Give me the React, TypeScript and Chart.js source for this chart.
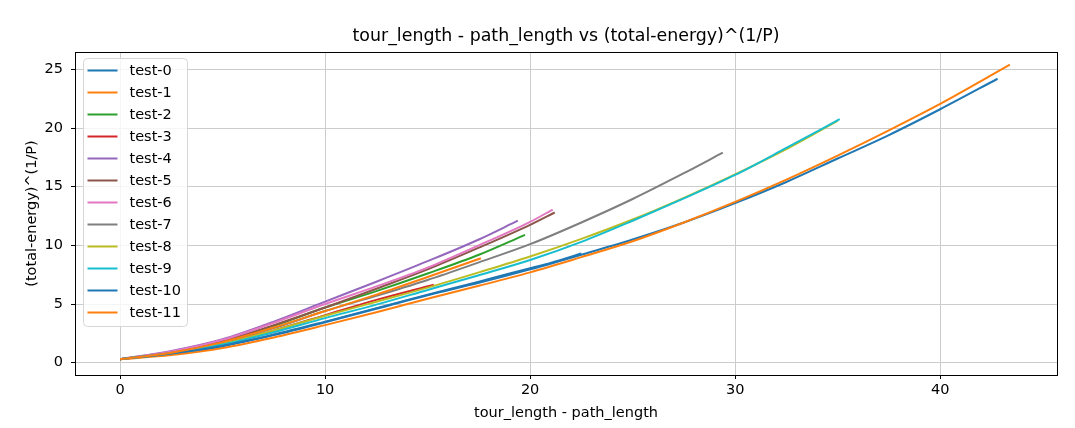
import React, { useEffect, useRef } from "react";
import { Chart, registerables } from "chart.js";

Chart.register(...registerables);

const titleText = "tour_length - path_length vs (total-energy)^(1/P)";
const xAxisLabel = "tour_length - path_length";
const yAxisLabel = "(total-energy)^(1/P)";

const xTicks = [0, 10, 20, 30, 40];
const yTicks = [0, 5, 10, 15, 20, 25];

const seriesLabels = [
  "test-0", "test-1", "test-2", "test-3", "test-4", "test-5",
  "test-6", "test-7", "test-8", "test-9", "test-10", "test-11",
];
const seriesColors = [
  "#1f77b4", "#ff7f0e", "#2ca02c", "#d62728", "#9467bd", "#8c564b",
  "#e377c2", "#7f7f7f", "#bcbd22", "#17becf", "#1f77b4", "#ff7f0e",
];

const test0X = [0, 2.5, 5, 7.5, 10, 12.5, 15, 17.5, 20, 22.5, 25, 27.5, 30, 32.5, 35, 37.5, 40, 42.8];
const test0Y = [0.3, 0.75, 1.4, 2.35, 3.45, 4.6, 5.75, 6.8, 7.95, 9.2, 10.5, 11.95, 13.6, 15.4, 17.4, 19.4, 21.6, 24.2];

const test1X = [0, 2.5, 5, 7.5, 10, 12.5, 15, 17.5, 20, 22.5, 25, 27.5, 30, 32.5, 35, 37.5, 40, 42.5, 43.4];
const test1Y = [0.3, 0.65, 1.25, 2.15, 3.2, 4.3, 5.45, 6.55, 7.7, 9.0, 10.35, 11.95, 13.7, 15.6, 17.65, 19.8, 22.05, 24.5, 25.4];

const test2X = [0, 2.5, 5, 7.5, 10, 12.5, 15, 17.5, 19.75];
const test2Y = [0.3, 0.9, 1.8, 3.15, 4.7, 6.1, 7.6, 9.2, 10.9];

const test3X = [0, 2.5, 5, 7.5, 10, 12.5, 15.3];
const test3Y = [0.3, 0.8, 1.6, 2.75, 4.05, 5.35, 6.65];

const test4X = [0, 2.5, 5, 7.5, 10, 12.5, 15, 17.5, 19.4];
const test4Y = [0.3, 1.0, 2.0, 3.5, 5.2, 6.9, 8.65, 10.5, 12.1];

const test5X = [0, 2.5, 5, 7.5, 10, 12.5, 15, 17.5, 20, 21.2];
const test5Y = [0.3, 0.9, 1.85, 3.2, 4.7, 6.3, 7.95, 9.8, 11.75, 12.8];

const test6X = [0, 2.5, 5, 7.5, 10, 12.5, 15, 17.5, 20, 21.1];
const test6Y = [0.3, 0.95, 1.95, 3.4, 5.0, 6.5, 8.1, 10.0, 12.0, 13.05];

const test7X = [0, 2.5, 5, 7.5, 10, 12.5, 15, 17.5, 20, 22.5, 25, 27.5, 29.4];
const test7Y = [0.3, 0.85, 1.7, 2.95, 4.4, 5.7, 7.05, 8.55, 10.1, 11.95, 13.95, 16.15, 17.9];

const test8X = [0, 2.5, 5, 7.5, 10, 12.5, 15, 17.5, 20, 22.5, 25, 27.5, 30, 32.5, 35];
const test8Y = [0.3, 0.8, 1.6, 2.75, 4.0, 5.2, 6.4, 7.7, 9.05, 10.55, 12.2, 14.05, 16.05, 18.2, 20.6];

const test9X = [0, 2.5, 5, 7.5, 10, 12.5, 15, 17.5, 20, 22.5, 25, 27.5, 30, 32.5, 35.1];
const test9Y = [0.3, 0.8, 1.55, 2.6, 3.8, 4.95, 6.2, 7.45, 8.75, 10.3, 12.1, 14.0, 16.0, 18.3, 20.75];

const test10X = [0, 2.5, 5, 7.5, 10, 12.5, 15, 17.5, 19, 20, 21, 22.5];
const test10Y = [0.3, 0.78, 1.45, 2.4, 3.5, 4.65, 5.8, 6.9, 7.6, 8.05, 8.5, 9.3];

const test11X = [0, 2.5, 5, 7.5, 10, 12.5, 15, 17.6];
const test11Y = [0.3, 0.85, 1.75, 3.0, 4.4, 5.8, 7.3, 8.9];

const seriesX = [test0X, test1X, test2X, test3X, test4X, test5X, test6X, test7X, test8X, test9X, test10X, test11X];
const seriesY = [test0Y, test1Y, test2Y, test3Y, test4Y, test5Y, test6Y, test7Y, test8Y, test9Y, test10Y, test11Y];

const FONT = "'DejaVu Sans', sans-serif";

const framePlugin = {
  id: "frameAndLegend",
  afterDraw(chart: any) {
    const { ctx, chartArea } = chart;
    ctx.save();
    // title centred over the axes
    ctx.font = "17.4px " + FONT;
    ctx.fillStyle = "#000";
    ctx.textAlign = "center";
    ctx.textBaseline = "middle";
    ctx.fillText(titleText, (chartArea.left + chartArea.right) / 2, chartArea.top - 16);
    // axes frame
    ctx.strokeStyle = "#000";
    ctx.lineWidth = 1;
    ctx.strokeRect(
      Math.round(chartArea.left) + 0.5,
      Math.round(chartArea.top) + 0.5,
      Math.round(chartArea.right - chartArea.left),
      Math.round(chartArea.bottom - chartArea.top)
    );
    // legend
    const bx = chartArea.left + 8.5;
    const by = chartArea.top + 6.5;
    const bw = 104;
    const bh = 268;
    const r = 4;
    ctx.beginPath();
    ctx.moveTo(bx + r, by);
    ctx.lineTo(bx + bw - r, by);
    ctx.quadraticCurveTo(bx + bw, by, bx + bw, by + r);
    ctx.lineTo(bx + bw, by + bh - r);
    ctx.quadraticCurveTo(bx + bw, by + bh, bx + bw - r, by + bh);
    ctx.lineTo(bx + r, by + bh);
    ctx.quadraticCurveTo(bx, by + bh, bx, by + bh - r);
    ctx.lineTo(bx, by + r);
    ctx.quadraticCurveTo(bx, by, bx + r, by);
    ctx.closePath();
    ctx.fillStyle = "rgba(255,255,255,0.8)";
    ctx.fill();
    ctx.strokeStyle = "#d6d6d6";
    ctx.lineWidth = 1;
    ctx.stroke();
    ctx.font = "14.5px " + FONT;
    ctx.textBaseline = "middle";
    ctx.textAlign = "left";
    chart.data.datasets.forEach((ds: any, i: number) => {
      const y = by + 12 + i * 22;
      ctx.strokeStyle = ds.borderColor;
      ctx.lineWidth = 2;
      ctx.beginPath();
      ctx.moveTo(bx + 4, y);
      ctx.lineTo(bx + 34, y);
      ctx.stroke();
      ctx.fillStyle = "#000";
      ctx.fillText(ds.label, bx + 46, y + 1);
    });
    ctx.restore();
  },
};

export default function App() {
  const canvasRef = useRef<HTMLCanvasElement | null>(null);

  useEffect(() => {
    document.body.style.margin = "0";
    const canvas = canvasRef.current;
    if (!canvas) return;
    const datasets = seriesLabels.map((label, i) => ({
      label,
      data: seriesX[i].map((x, j) => ({ x, y: seriesY[i][j] })),
      borderColor: seriesColors[i],
      backgroundColor: seriesColors[i],
      borderWidth: 2,
      pointRadius: 0,
      showLine: true,
      fill: false,
      cubicInterpolationMode: "monotone" as const,
      order: seriesLabels.length - i,
    }));

    const chart = new Chart(canvas, {
      type: "scatter",
      data: { datasets },
      plugins: [framePlugin],
      options: {
        responsive: false,
        animation: false,
        layout: { padding: { left: 0, right: 18, top: 52, bottom: 0 } },
        plugins: {
          legend: { display: false },
          tooltip: { enabled: false },
          title: { display: false },
        },
        scales: {
          x: {
            type: "linear",
            min: -2.2,
            max: 45.7,
            afterBuildTicks: (scale: any) => {
              scale.ticks = xTicks.map((v) => ({ value: v }));
            },
            afterFit: (scale: any) => {
              scale.height = 53;
            },
            grid: {
              color: "#cccccc",
              lineWidth: 1,
              tickLength: 4,
              tickColor: "#000",
            },
            border: { display: false },
            ticks: {
              color: "#000",
              font: { family: FONT, size: 14.5 },
              padding: 3,
              maxRotation: 0,
            },
            title: {
              display: true,
              text: xAxisLabel,
              color: "#000",
              font: { family: FONT, size: 14.5 },
              padding: { top: 0, bottom: 6 },
            },
          },
          y: {
            type: "linear",
            min: -1.05,
            max: 26.48,
            afterBuildTicks: (scale: any) => {
              scale.ticks = yTicks.map((v) => ({ value: v }));
            },
            afterFit: (scale: any) => {
              scale.width = 75;
            },
            grid: {
              color: "#cccccc",
              lineWidth: 1,
              tickLength: 4,
              tickColor: "#000",
            },
            border: { display: false },
            ticks: {
              color: "#000",
              font: { family: FONT, size: 14.5 },
              padding: 8,
            },
            title: {
              display: true,
              text: yAxisLabel,
              color: "#000",
              font: { family: FONT, size: 14.5 },
              padding: { top: 24, bottom: 0 },
            },
          },
        },
      },
    });
    return () => chart.destroy();
  }, []);

  return (
    <canvas
      ref={canvasRef}
      width={1075}
      height={428}
      style={{ display: "block", width: "1075px", height: "428px" }}
    />
  );
}
